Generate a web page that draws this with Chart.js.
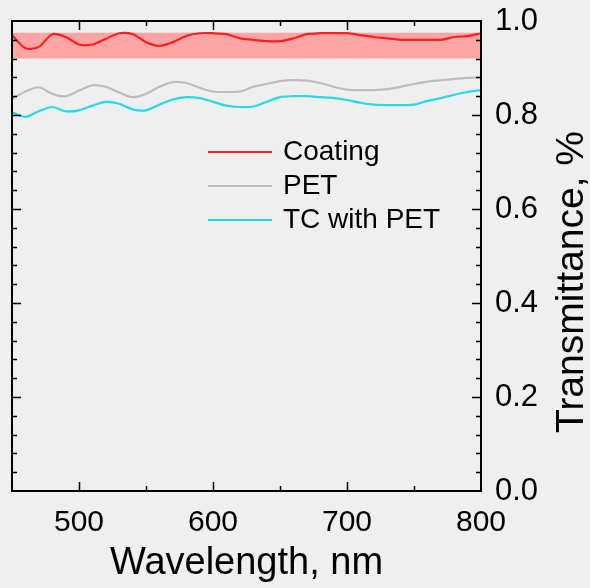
<!DOCTYPE html>
<html>
<head>
<meta charset="utf-8">
<script src="https://cdn.jsdelivr.net/npm/chart.js@4/dist/chart.umd.min.js"></script>
<style>
  html, body { margin: 0; padding: 0; background: #efefef; }
  #wrap { width: 590px; height: 588px; }
</style>
</head>
<body>
<div id="wrap"><canvas id="grafico" width="590" height="588"></canvas></div>
<script>
// dados (10 nm)
const wavelengths = [450, 460, 470, 480, 490, 500, 510, 520, 530, 540, 550, 560, 570, 580, 590, 600, 610, 620, 630, 640,
  650, 660, 670, 680, 690, 700, 710, 720, 730, 740, 750, 760, 770, 780, 790, 800];
const coating = [0.970, 0.942, 0.945, 0.972, 0.966, 0.950, 0.950, 0.962, 0.974, 0.972, 0.955, 0.947, 0.955, 0.968, 0.974, 0.974,
  0.972, 0.963, 0.960, 0.957, 0.957, 0.963, 0.972, 0.974, 0.974, 0.974, 0.970, 0.966, 0.963, 0.960, 0.960, 0.960, 0.960, 0.966, 0.968, 0.974];
const pet = [0.834, 0.850, 0.859, 0.845, 0.840, 0.852, 0.863, 0.860, 0.848, 0.838, 0.845, 0.860, 0.870, 0.868, 0.858, 0.850,
  0.849, 0.850, 0.860, 0.866, 0.872, 0.874, 0.873, 0.868, 0.860, 0.854, 0.853, 0.853, 0.855, 0.860, 0.866, 0.871, 0.874, 0.877, 0.879, 0.880];
const tcPet = [0.806, 0.796, 0.808, 0.817, 0.808, 0.810, 0.820, 0.828, 0.824, 0.812, 0.810, 0.822, 0.833, 0.838, 0.836, 0.828,
  0.820, 0.817, 0.818, 0.828, 0.838, 0.840, 0.840, 0.838, 0.836, 0.832, 0.826, 0.822, 0.821, 0.821, 0.822, 0.830, 0.836, 0.843, 0.849, 0.853];
const bandTop = 0.975;
const bandBottom = 0.92;

const labels = ["Coating", "PET", "TC with PET"];
const xTicks = [500, 600, 700, 800];
const yTicks = [0.0, 0.2, 0.4, 0.6, 0.8, 1.0];

const cores = ["#ff1f1f", "#bdbdbd", "#24d9e8"];
const fonte = "'Liberation Sans', Arial, sans-serif";

const pontos = arr => arr.map((v, i) => ({ x: wavelengths[i], y: v }));

// moldura, ticks internos, legenda e titulo do eixo y
const extras = {
  id: "extras",
  afterDraw(chart) {
    const c = chart.ctx;
    const a = chart.chartArea;
    const xs = chart.scales.x;
    const ys = chart.scales.y;
    c.save();
    c.strokeStyle = "#000";
    c.lineWidth = 2;
    c.strokeRect(a.left, a.top, a.right - a.left, a.bottom - a.top);

    c.lineWidth = 1.5;
    c.beginPath();
    for (let v = 500; v < 800; v += 50) {
      const px = Math.round(xs.getPixelForValue(v)) + 0.5;
      const len = v % 100 === 0 ? 9 : 5;
      c.moveTo(px, a.bottom); c.lineTo(px, a.bottom - len);
      c.moveTo(px, a.top); c.lineTo(px, a.top + len);
    }
    for (let i = 1; i < 25; i++) {
      const v = i * 0.04;
      const py = Math.round(ys.getPixelForValue(v)) + 0.5;
      const len = i % 5 === 0 ? 9 : 5;
      c.moveTo(a.right, py); c.lineTo(a.right - len, py);
      c.moveTo(a.left, py); c.lineTo(a.left + len, py);
    }
    c.stroke();

    // legenda
    c.font = "28px " + fonte;
    c.textBaseline = "middle";
    c.fillStyle = "#000";
    const ly = [152, 186, 220];
    labels.forEach((l, i) => {
      c.strokeStyle = cores[i];
      c.lineWidth = 2.2;
      c.beginPath();
      c.moveTo(208, ly[i]); c.lineTo(272, ly[i]);
      c.stroke();
      c.fillText(l, 283, ly[i]);
    });

    // titulo eixo y
    c.translate(572, 282);
    c.rotate(-Math.PI / 2);
    c.font = "39px " + fonte;
    c.textAlign = "center";
    c.fillText("Transmittance, %", 0, 0);
    c.restore();
  }
};

const ctx = document.getElementById("grafico").getContext("2d");
const grafico = new Chart(ctx, {
  type: "line",
  data: {
    datasets: [
      { label: labels[0], data: pontos(coating), borderColor: cores[0], borderWidth: 2.2, pointRadius: 0, tension: 0.3 },
      { label: labels[1], data: pontos(pet), borderColor: cores[1], borderWidth: 2.2, pointRadius: 0, tension: 0.3 },
      { label: labels[2], data: pontos(tcPet), borderColor: cores[2], borderWidth: 2.2, pointRadius: 0, tension: 0.3 },
      { label: "banda", data: pontos(wavelengths.map(() => bandTop)), borderWidth: 0, pointRadius: 0,
        fill: "+1", backgroundColor: "rgba(255, 150, 150, 0.85)" },
      { label: "banda2", data: pontos(wavelengths.map(() => bandBottom)), borderWidth: 0, pointRadius: 0 }
    ]
  },
  options: {
    responsive: false,
    animation: false,
    layout: { padding: { left: 12, top: 21, right: 0, bottom: 0 } },
    plugins: { legend: { display: false }, tooltip: { enabled: false } },
    scales: {
      x: {
        type: "linear",
        min: 450,
        max: 800,
        grid: { display: false, drawTicks: false },
        border: { display: false },
        afterBuildTicks: s => { s.ticks = xTicks.map(v => ({ value: v })); },
        afterFit: s => { s.height = 97; s.paddingLeft = 0; s.paddingRight = 0; },
        ticks: { color: "#000", font: { family: fonte, size: 30 }, padding: 14, maxRotation: 0 },
        title: { display: true, text: "Wavelength, nm", color: "#000", font: { family: fonte, size: 38 }, padding: { top: 0, bottom: 2 } }
      },
      y: {
        position: "right",
        min: 0,
        max: 1,
        grid: { display: false, drawTicks: false },
        border: { display: false },
        afterBuildTicks: s => { s.ticks = yTicks.map(v => ({ value: v })); },
        afterFit: s => { s.width = 109; s.paddingTop = 0; s.paddingBottom = 0; },
        ticks: { color: "#000", font: { family: fonte, size: 31 }, padding: 14, callback: v => v.toFixed(1) }
      }
    }
  },
  plugins: [extras]
});
</script>
</body>
</html>
